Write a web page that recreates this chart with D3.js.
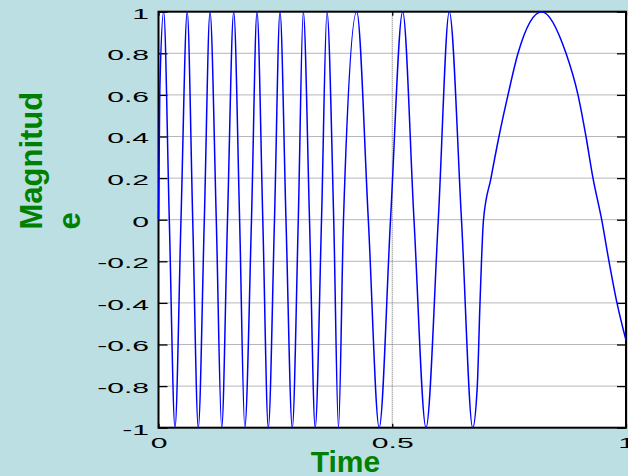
<!DOCTYPE html>
<html>
<head>
<meta charset="utf-8">
<script src="https://cdn.jsdelivr.net/npm/d3@7"></script>
<style>
    html, body { margin: 0; padding: 0; background: #bbdfe2; }
    svg { display: block; }
</style>
</head>
<body>
<div id="chart"></div>
<script>
// signal: peaks, troughs, zero crossings and a few points in between
const timeValues = [0, 0.0028, 0.0111, 0.0231, 0.0353, 0.0481, 0.0614, 0.0732, 0.0851, 0.0980,
    0.1102, 0.1236, 0.1352, 0.1476, 0.1609, 0.1735, 0.1846, 0.1989, 0.2107, 0.2231,
    0.2349, 0.2481, 0.2599, 0.2727, 0.2862, 0.2990, 0.3097, 0.3230, 0.3352, 0.3487,
    0.3604, 0.3748, 0.3850, 0.3957, 0.4240, 0.4488, 0.4721, 0.4963, 0.5223, 0.5465,
    0.5722, 0.5985, 0.6220, 0.6481, 0.6721, 0.6819, 0.6877, 0.6952, 0.7112, 0.7283,
    0.7476, 0.7690, 0.8197, 0.8717, 0.8973, 0.9144, 0.9294, 0.9480,
    0.9636, 0.9807, 1.0];
const magnitudeValues = [0, 0.62, 1, 0, -1, 0, 1, 0, -1, 0,
    1, 0, -1, 0, 1, 0, -1, 0, 1, 0,
    -1, 0, 1, 0, -1, 0, 1, 0, -1, 0,
    1, 0, -1, 0, 1, 0, -1, 0, 1, 0,
    -1, 0, 1, 0, -1, -0.8, -0.4, 0, 0.2, 0.4,
    0.6, 0.8, 1, 0.8, 0.6, 0.4, 0.2, 0,
    -0.2, -0.4, -0.58];

const yTicks = [-1, -0.8, -0.6, -0.4, -0.2, 0, 0.2, 0.4, 0.6, 0.8, 1];
const yTickLabels = ["-1", "-0.8", "-0.6", "-0.4", "-0.2", "0", "0.2", "0.4", "0.6", "0.8", "1"];
const xTicks = [0, 0.5, 1];
const xTickLabels = ["0", "0.5", "1"];

const W = 628, H = 476;
const margin = {top: 11.7, right: 2, bottom: 48.3, left: 158.5};
const width = W - margin.left - margin.right;
const height = H - margin.top - margin.bottom;

const tickFont = '"Liberation Sans", Arial, sans-serif';
const green = "#008000";

const svg = d3.select("#chart").append("svg")
    .attr("width", W)
    .attr("height", H);

const g = svg.append("g")
    .attr("transform", "translate(" + margin.left + "," + margin.top + ")");

const x = d3.scaleLinear().domain([0, 1]).range([0, width]);
const y = d3.scaleLinear().domain([-1, 1]).range([height, 0]);

// white plot area
g.append("rect")
    .attr("width", width)
    .attr("height", height)
    .attr("fill", "white");

// dotted grid
g.selectAll(".hgrid")
    .data(yTicks.filter(d => d > -1 && d < 1))
    .enter().append("line")
    .attr("class", "hgrid")
    .attr("x1", 0).attr("x2", width)
    .attr("y1", d => y(d)).attr("y2", d => y(d))
    .attr("stroke", "#5e5e5e")
    .attr("stroke-width", 0.9)
    .attr("stroke-dasharray", "1,1");

g.selectAll(".vgrid")
    .data(xTicks.filter(d => d > 0 && d < 1))
    .enter().append("line")
    .attr("class", "vgrid")
    .attr("x1", d => x(d)).attr("x2", d => x(d))
    .attr("y1", 0).attr("y2", height)
    .attr("stroke", "#5e5e5e")
    .attr("stroke-width", 0.9)
    .attr("stroke-dasharray", "1,1");

// axes, ticks pointing inward
const yAxis = g.append("g")
    .call(d3.axisLeft(y).tickValues(yTicks)
        .tickFormat((d, i) => yTickLabels[i])
        .tickSizeInner(-9).tickSizeOuter(0));
yAxis.selectAll("text")
    .attr("x", null)
    .attr("dy", null)
    .attr("transform", "translate(-9.5,6.4) scale(2.15,1)")
    .attr("fill", "black")
    .style("font-family", tickFont)
    .style("font-size", "14px");

const xAxis = g.append("g")
    .attr("transform", "translate(0," + height + ")")
    .call(d3.axisBottom(x).tickValues(xTicks)
        .tickFormat((d, i) => xTickLabels[i])
        .tickSizeInner(-4).tickSizeOuter(0));
xAxis.selectAll("text")
    .attr("y", null)
    .attr("dy", null)
    .attr("transform", "translate(0,20.3) scale(2.15,1)")
    .attr("fill", "black")
    .style("font-family", tickFont)
    .style("font-size", "14px");

g.append("g")
    .attr("transform", "translate(" + width + ",0)")
    .call(d3.axisRight(y).tickValues(yTicks).tickFormat("")
        .tickSizeInner(-9).tickSizeOuter(0));

g.append("g")
    .call(d3.axisTop(x).tickValues(xTicks).tickFormat("")
        .tickSizeInner(-4).tickSizeOuter(0));

g.selectAll(".domain").remove();
g.selectAll(".tick line")
    .attr("stroke", "black")
    .attr("stroke-width", 1.3);

// box
g.append("rect")
    .attr("width", width)
    .attr("height", height)
    .attr("fill", "none")
    .attr("stroke", "black")
    .attr("stroke-width", 2);

// signal
const points = timeValues.map((t, i) => ({t: t, v: magnitudeValues[i]}));

const line = d3.line()
    .x(d => x(d.t))
    .y(d => y(d.v))
    .curve(d3.curveMonotoneX);

g.append("path")
    .datum(points)
    .attr("d", line)
    .attr("fill", "none")
    .attr("stroke", "#0000ff")
    .attr("stroke-width", 1.5);

// axis titles
svg.append("text")
    .attr("x", 345.5)
    .attr("y", 472)
    .attr("text-anchor", "middle")
    .attr("fill", green)
    .style("font-family", tickFont)
    .style("font-weight", "bold")
    .style("font-size", "30px")
    .text("Time");

const yTitle = ["Magnitud", "e"];
svg.selectAll(".ytitle")
    .data(yTitle)
    .enter().append("text")
    .attr("class", "ytitle")
    .attr("transform", (d, i) => "translate(" + (41.5 + i * 38.5) + ",229.5) rotate(-90)")
    .attr("text-anchor", "start")
    .attr("fill", green)
    .style("font-family", tickFont)
    .style("font-weight", "bold")
    .style("font-size", "31px")
    .text(d => d);
</script>
</body>
</html>
